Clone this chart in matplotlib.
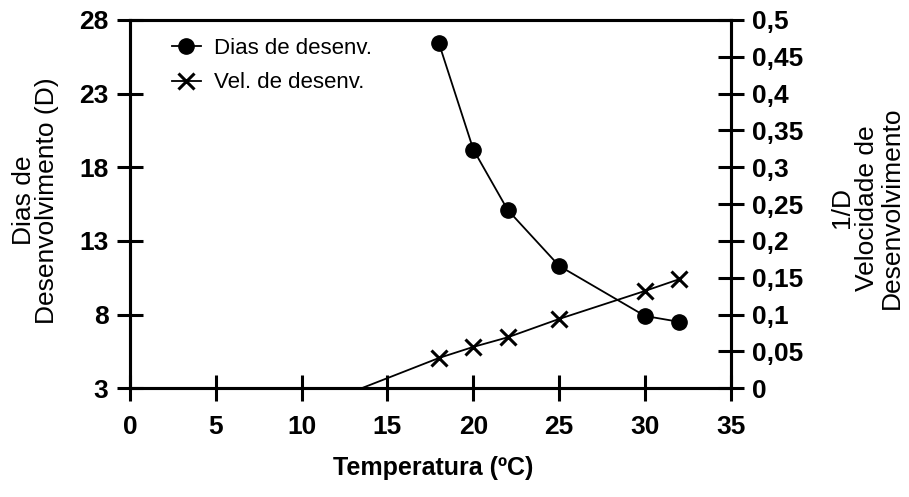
import matplotlib.pyplot as plt

# data
temp = [18, 20, 22, 25, 30, 32]
dias = [26.4, 19.2, 15.1, 11.3, 7.9, 7.5]

# velocity line starts at the lower threshold temperature (vel = 0)
temp_vel = [13.5, 18, 20, 22, 25, 30, 32]
vel = [0.0, 0.041, 0.056, 0.069, 0.094, 0.132, 0.148]

xticks = [0, 5, 10, 15, 20, 25, 30, 35]
yticks_left = [3, 8, 13, 18, 23, 28]
yticks_right = [0, 0.05, 0.1, 0.15, 0.2, 0.25, 0.3, 0.35, 0.4, 0.45, 0.5]
yticklabels_right = ['0', '0,05', '0,1', '0,15', '0,2', '0,25', '0,3', '0,35', '0,4', '0,45', '0,5']

plt.rcParams['font.family'] = ['Liberation Sans', 'DejaVu Sans']
narrow = ['Liberation Sans Narrow', 'Liberation Sans', 'DejaVu Sans']

fig = plt.figure(figsize=(9.09, 4.97), dpi=100)
ax = fig.add_axes([0.143, 0.219, 0.661, 0.741])
ax2 = ax.twinx()

l1, = ax.plot(temp, dias, color='black', lw=1.3, marker='o', ms=11, label='Dias de desenv.')
l2, = ax2.plot(temp_vel, vel, color='black', lw=1.3, marker='x', ms=11, mew=2.2,
               markevery=list(range(1, len(temp_vel))), label='Vel. de desenv.')

ax.set_xlim(0, 35)
ax.set_ylim(3, 28)
ax2.set_ylim(0, 0.5)
ax.set_xticks(xticks)
ax.set_yticks(yticks_left)
ax2.set_yticks(yticks_right)
ax2.set_yticklabels(yticklabels_right)

for a in (ax, ax2):
    for s in a.spines.values():
        s.set_linewidth(2.2)
    a.tick_params(direction='inout', length=19, width=2.2, labelsize=19)
    for lab in a.get_xticklabels() + a.get_yticklabels():
        lab.set_fontweight('bold')
        lab.set_family(narrow)
ax.tick_params(axis='x', pad=10)
ax.tick_params(axis='y', pad=6)
ax2.tick_params(axis='y', pad=6)

ax.set_ylabel('Dias de\nDesenvolvimento (D)', fontsize=19, linespacing=0.95)
ax.yaxis.set_label_coords(-0.118, 0.51)
ax2.set_ylabel('1/D\nVelocidade de\nDesenvolvimento', fontsize=19, rotation=90, linespacing=1.05)
ax2.yaxis.set_label_coords(1.165, 0.49)
ax.set_xlabel('Temperatura (ºC)', fontsize=18, fontweight='bold')
ax.xaxis.set_label_coords(0.505, -0.185)

ax.legend(handles=[l1, l2], loc='upper left', bbox_to_anchor=(0.07, 0.952), frameon=False,
          fontsize=16, handlelength=1.3, handletextpad=0.6, labelspacing=0.62,
          borderpad=0, borderaxespad=0)

plt.savefig('out.png', dpi=100)
